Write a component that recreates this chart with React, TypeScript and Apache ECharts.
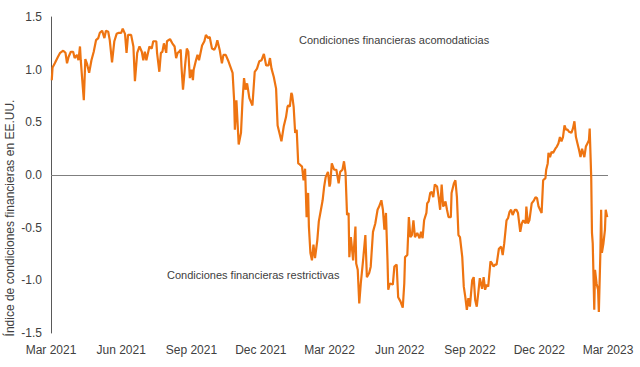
import React, { useEffect, useRef } from "react";
import * as echarts from "echarts";

// Days since 2021-03-01 for each observation
const dayOffsets: number[] = [
  1, 2, 5, 9, 12, 16, 19, 21, 23, 26, 29, 31, 34, 36, 38, 39, 43, 45, 47, 50,
  53, 56, 59, 62, 64, 67, 70, 72, 75, 77, 80, 83, 86, 89, 92, 94, 97, 99, 101, 105,
  108, 110, 113, 116, 119, 121, 123, 125, 129, 132, 134, 138, 139, 142, 144, 146, 148, 151, 152, 156,
  159, 162, 164, 166, 168, 170, 171, 173, 176, 178, 180, 182, 184, 186, 187, 190, 192, 194, 198, 201,
  203, 206, 208, 211, 214, 216, 218, 221, 224, 226, 229, 232, 236, 238, 240, 241, 243, 246, 249, 251,
  253, 255, 257, 260, 264, 267, 270, 273, 276, 279, 282, 285, 287, 289, 292, 295, 297, 299, 302, 305,
  308, 310, 311, 313, 315, 316, 318, 320, 322, 324, 326, 329, 331, 333, 335, 337, 338, 340, 342, 344,
  346, 349, 351, 354, 356, 358, 360, 363, 365, 366, 368, 371, 374, 377, 379, 382, 384, 386, 388, 390,
  391, 393, 396, 399, 400, 402, 404, 406, 409, 412, 414, 417, 419, 422, 425, 428, 430, 433, 435, 437,
  439, 441, 442, 444, 448, 450, 453, 455, 458, 461, 463, 464, 467, 469, 471, 473, 475, 477, 480, 483,
  485, 487, 489, 492, 493, 495, 497, 499, 501, 503, 506, 508, 510, 512, 514, 517, 519, 521, 524, 525,
  528, 530, 532, 534, 536, 539, 541, 543, 545, 547, 549, 552, 554, 556, 558, 560, 562, 565, 567, 569,
  571, 573, 576, 578, 580, 582, 584, 587, 590, 592, 594, 597, 599, 601, 603, 605, 608, 610, 612, 615,
  617, 619, 622, 623, 625, 627, 630, 633, 635, 637, 639, 641, 643, 645, 648, 649, 651, 652, 654, 656,
  658, 661, 663, 665, 667, 669, 671, 673, 675, 677, 679, 682, 684, 686, 688, 690, 692, 694, 696, 699,
  701, 703, 705, 706, 708, 709, 710, 712, 713, 715, 717, 718, 720, 721, 722, 724, 726, 727, 729,
];

// US financial conditions index values
const indexValues: number[] = [
  0.9, 1.02, 1.06, 1.12, 1.16, 1.18, 1.16, 1.06, 1.12, 1.17, 1.17, 1.11, 1.14, 1.09, 1.22, 1.09, 0.71, 1.1, 1.06, 0.97,
  1.09, 1.17, 1.28, 1.3, 1.35, 1.37, 1.3, 1.37, 1.36, 1.28, 1.07, 1.27, 1.34, 1.35, 1.35, 1.39, 1.34, 1.16, 1.33, 1.33,
  1.22, 0.89, 1.16, 1.22, 1.17, 1.09, 1.17, 1.09, 1.22, 1.2, 1.27, 1.27, 1.16, 0.98, 1.16, 1.17, 1.25, 1.16, 1.27, 1.29,
  1.25, 1.22, 1.11, 1.16, 1.17, 1.19, 1.03, 0.81, 1.06, 1.2, 1.17, 0.92, 1.0, 0.9, 1.0, 1.09, 1.14, 1.09, 1.23, 1.27,
  1.33, 1.3, 1.31, 1.2, 1.19, 1.22, 1.28, 1.19, 1.06, 1.14, 1.14, 1.09, 1.01, 0.97, 0.71, 0.43, 0.71, 0.29, 0.4, 0.71,
  0.92, 0.81, 0.87, 0.73, 0.66, 0.98, 1.01, 1.08, 1.09, 1.15, 1.04, 1.04, 1.11, 1.01, 0.93, 0.82, 0.47, 0.41, 0.32, 0.46,
  0.55, 0.65, 0.66, 0.65, 0.78, 0.76, 0.65, 0.4, 0.43, 0.11, 0.1, 0.08, -0.05, 0.06, -0.4, -0.17, -0.49, -0.74, -0.81, -0.66,
  -0.79, -0.62, -0.44, -0.32, -0.24, -0.11, -0.02, 0.03, -0.11, -0.08, 0.11, 0.05, 0.05, -0.08, 0.03, 0.05, 0.13, 0.02, -0.38, -0.36,
  -0.78, -0.59, -0.81, -0.49, -0.84, -0.9, -1.22, -1.03, -0.81, -0.57, -0.97, -0.93, -0.87, -0.54, -0.46, -0.33, -0.3, -0.24, -0.33, -0.52,
  -0.36, -0.81, -1.09, -1.03, -1.04, -0.87, -0.85, -1.16, -1.2, -1.26, -1.03, -0.78, -0.76, -0.4, -0.59, -0.57, -0.43, -0.59, -0.55, -0.6,
  -0.54, -0.6, -0.43, -0.36, -0.27, -0.25, -0.17, -0.16, -0.21, -0.09, -0.11, -0.21, -0.33, -0.09, -0.3, -0.25, -0.33, -0.4, -0.4, -0.17,
  -0.08, -0.05, -0.21, -0.57, -0.59, -0.78, -1.06, -1.16, -1.28, -1.17, -1.25, -1.0, -0.97, -1.19, -1.25, -1.12, -0.98, -1.08, -0.97, -1.09,
  -1.04, -1.06, -0.82, -0.84, -0.87, -0.85, -0.85, -0.7, -0.68, -0.76, -0.65, -0.43, -0.41, -0.35, -0.33, -0.38, -0.33, -0.33, -0.36, -0.54,
  -0.46, -0.43, -0.46, -0.3, -0.46, -0.43, -0.27, -0.24, -0.21, -0.22, -0.3, -0.33, -0.36, -0.05, -0.03, 0.05, 0.11, 0.21, 0.17, 0.22,
  0.21, 0.25, 0.27, 0.3, 0.36, 0.32, 0.36, 0.47, 0.43, 0.43, 0.41, 0.4, 0.44, 0.51, 0.36, 0.3, 0.24, 0.17, 0.25, 0.17,
  0.27, 0.3, 0.33, 0.44, -0.02, -0.55, -0.65, -1.28, -0.9, -1.03, -1.09, -1.3, -0.74, -0.33, -0.74, -0.65, -0.52, -0.33, -0.4,
];

const startDate = "2021-03-01";
const endDate = "2023-03-01";
const tickDates: string[] = [
  "2021-03-01", "2021-06-01", "2021-09-01", "2021-12-01",
  "2022-03-01", "2022-06-01", "2022-09-01", "2022-12-01", "2023-03-01",
];
const monthNames: string[] = ["Jan", "Feb", "Mar", "Apr", "May", "Jun", "Jul", "Aug", "Sep", "Oct", "Nov", "Dec"];

const yTitle = "Índice de condiciones financieras en EE.UU.";
const labelLoose = "Condiciones financieras acomodaticias";
const labelTight = "Condiciones financieras restrictivas";

const DAY = 86400000;
const FONT = "'Liberation Sans', Arial, sans-serif";

function ts(s: string): number {
  const [y, m, d] = s.split("-").map(Number);
  return Date.UTC(y, m - 1, d);
}

export default function App() {
  const ref = useRef<HTMLDivElement>(null);
  useEffect(() => {
    document.body.style.margin = "0";
    if (!ref.current) return;
    const chart = echarts.init(ref.current, undefined, { renderer: "svg" });
    const base = ts(startDate);
    const data = dayOffsets.map((d, i) => [base + d * DAY, indexValues[i]]);
    chart.setOption({
      animation: false,
      textStyle: { fontFamily: FONT },
      grid: { left: 51, right: 32, top: 17, bottom: 34 },
      xAxis: {
        type: "value",
        min: ts(startDate),
        max: ts(endDate),
        axisLine: { show: false },
        axisTick: { show: false },
        splitLine: { show: false },
        axisLabel: {
          customValues: tickDates.map(ts),
          color: "#404040",
          fontSize: 12,
          fontFamily: FONT,
          margin: 11,
          showMinLabel: true,
          showMaxLabel: true,
          hideOverlap: false,
          formatter: (v: number) => {
            const dt = new Date(v);
            return monthNames[dt.getUTCMonth()] + " " + dt.getUTCFullYear();
          },
        },
      },
      yAxis: {
        type: "value",
        min: -1.5,
        max: 1.5,
        interval: 0.5,
        axisLine: { show: true, lineStyle: { color: "#595959", width: 1 } },
        axisTick: { show: false },
        splitLine: { show: false },
        axisLabel: {
          color: "#404040",
          fontSize: 12,
          fontFamily: FONT,
          margin: 9,
          formatter: (v: number) => v.toFixed(1),
        },
      },
      series: [
        {
          type: "line",
          data,
          showSymbol: false,
          symbol: "none",
          lineStyle: { color: "#EE7411", width: 2.2 },
          z: 3,
          markLine: {
            silent: true,
            symbol: "none",
            label: { show: false },
            lineStyle: { color: "#7f7f7f", width: 1, type: "solid" },
            data: [{ yAxis: 0 }],
            z: 1,
          },
        },
      ],
      graphic: [
        {
          type: "text",
          x: 10,
          y: 218,
          rotation: Math.PI / 2,
          style: {
            text: yTitle,
            fill: "#404040",
            fontSize: 12,
            fontFamily: FONT,
            align: "center",
            verticalAlign: "middle",
          },
        },
        {
          type: "text",
          x: 299,
          y: 40,
          style: {
            text: labelLoose,
            fill: "#404040",
            fontSize: 11,
            fontFamily: FONT,
            align: "left",
            verticalAlign: "middle",
          },
        },
        {
          type: "text",
          x: 167,
          y: 275,
          style: {
            text: labelTight,
            fill: "#404040",
            fontSize: 11,
            fontFamily: FONT,
            align: "left",
            verticalAlign: "middle",
          },
        },
      ],
    });
    return () => chart.dispose();
  }, []);
  return <div ref={ref} style={{ width: 640, height: 367 }} />;
}
